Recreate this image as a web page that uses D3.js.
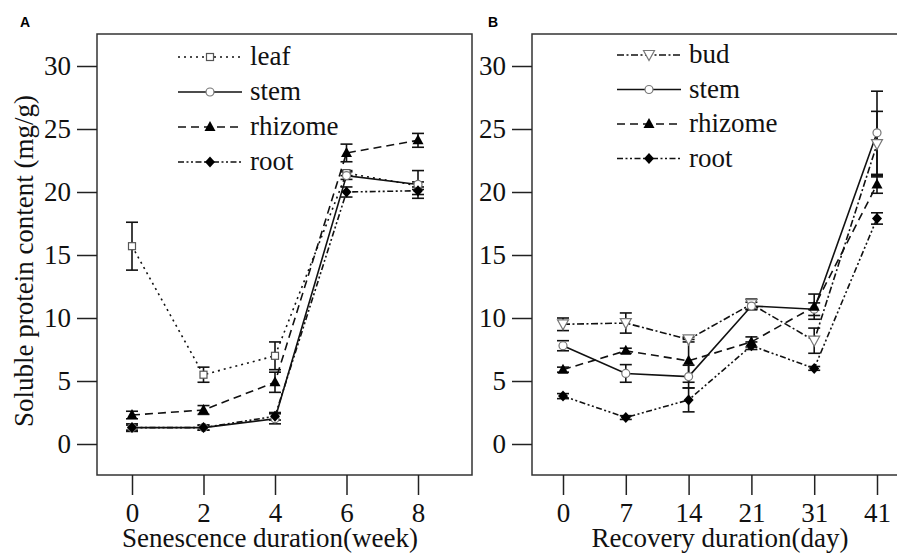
<!DOCTYPE html>
<html><head><meta charset="utf-8">
<script src="https://cdn.jsdelivr.net/npm/d3@7"></script>
<style>
body{margin:0;background:#fff;}
svg{display:block;}
</style></head>
<body>
<svg id="chart" width="897" height="553"></svg>
<script>
// ---------- data ----------
const weeks = [0, 2, 4, 6, 8];
const leafA = [15.7, 5.5, 7.0, 21.5, 20.5];
const leafAErr = [1.9, 0.6, 1.1, 0.2, 0.3];
const stemA = [1.3, 1.3, 2.0, 21.3, 20.6];
const stemAErr = [0.2, 0.2, 0.4, 0.3, 1.1];
const rhizomeA = [2.3, 2.7, 4.9, 23.1, 24.1];
const rhizomeAErr = [0.3, 0.35, 0.8, 0.7, 0.55];
const rootA = [1.3, 1.3, 2.2, 20.0, 20.1];
const rootAErr = [0.3, 0.2, 0.3, 0.4, 0.3];

const days = ["0", "7", "14", "21", "31", "41"];
const budB = [9.5, 9.6, 8.3, 11.1, 8.2, 23.8];
const budBErr = [0.5, 0.8, 0.2, 0.4, 1.0, 2.6];
const stemB = [7.8, 5.6, 5.35, 10.95, 10.7, 24.7];
const stemBErr = [0.4, 0.7, 0.9, 0.3, 0.5, 3.3];
const rhizomeB = [5.9, 7.4, 6.6, 8.1, 10.9, 20.6];
const rhizomeBErr = [0.2, 0.2, 1.7, 0.4, 1.0, 0.7];
const rootB = [3.8, 2.1, 3.5, 7.8, 6.0, 17.9];
const rootBErr = [0.2, 0.15, 0.95, 0.3, 0.15, 0.45];

const yTicks = [0, 5, 10, 15, 20, 25, 30];
const yTitle = "Soluble protein content (mg/g)";
const xTitleA = "Senescence duration(week)";
const xTitleB = "Recovery duration(day)";

// ---------- styles ----------
const SERIF = "'Liberation Serif', 'Times New Roman', serif";
const styles = {
  leaf:    {dash: "2,4",  marker: "square"},
  stem:    {dash: null,   marker: "circle"},
  rhizome: {dash: "8,5",  marker: "triangle"},
  root:    {dash: "6,2.5,2,2.5,2,2.5", marker: "diamond"},
  bud:     {dash: "7,2.5,2,2.5", marker: "tridown"}
};

const svg = d3.select("#chart");
const FS = 27;
const y = d3.scaleLinear().domain([0, 30]).range([444, 66]);

function drawMarker(g, type, cx, cy) {
  if (type === "square") {
    g.append("rect").attr("x", cx - 3.5).attr("y", cy - 3.5).attr("width", 7).attr("height", 7)
      .attr("fill", "#fff").attr("stroke", "#555").attr("stroke-width", 1.2);
  } else if (type === "circle") {
    g.append("circle").attr("cx", cx).attr("cy", cy).attr("r", 4)
      .attr("fill", "#fff").attr("stroke", "#777").attr("stroke-width", 1.2);
  } else if (type === "triangle") {
    g.append("path").attr("d", `M${cx},${cy - 6}L${cx + 5.5},${cy + 4}L${cx - 5.5},${cy + 4}Z`)
      .attr("fill", "#000");
  } else if (type === "diamond") {
    g.append("path").attr("d", `M${cx},${cy - 5.5}L${cx + 5},${cy}L${cx},${cy + 5.5}L${cx - 5},${cy}Z`)
      .attr("fill", "#000");
  } else if (type === "tridown") {
    g.append("path").attr("d", `M${cx - 5.5},${cy - 4.5}L${cx + 5.5},${cy - 4.5}L${cx},${cy + 5.5}Z`)
      .attr("fill", "#fff").attr("stroke", "#777").attr("stroke-width", 1.2);
  }
}

function styleText(sel, size) {
  sel.style("font-family", SERIF).style("font-size", size + "px").style("fill", "#111");
}

function panel(opts) {
  const g = svg.append("g");
  const {x, xTickValues, xPos, box, series, legendX, legendY, legendStep, xTitle, xTitleX, letter, letterX} = opts;
  g.append("rect").attr("x", box[0]).attr("y", box[1]).attr("width", box[2] - box[0]).attr("height", box[3] - box[1])
    .attr("fill", "none").attr("stroke", "#333").attr("stroke-width", 1.5);
  const ya = g.append("g").attr("transform", `translate(${box[0]},0)`)
    .call(d3.axisLeft(y).tickValues(yTicks).tickSize(20).tickPadding(6).tickSizeOuter(0));
  ya.select(".domain").remove();
  ya.selectAll(".tick line").attr("stroke", "#222").attr("stroke-width", 1.5);
  styleText(ya.selectAll(".tick text"), FS);
  const xAxis = d3.axisBottom(x).tickSize(20).tickPadding(8).tickSizeOuter(0);
  if (xTickValues) xAxis.tickValues(xTickValues);
  const xa = g.append("g").attr("transform", `translate(0,${box[3]})`).call(xAxis);
  xa.select(".domain").remove();
  xa.selectAll(".tick line").attr("stroke", "#222").attr("stroke-width", 1.5);
  styleText(xa.selectAll(".tick text"), FS);
  styleText(g.append("text").attr("x", xTitleX).attr("y", 547).attr("text-anchor", "middle").text(xTitle), 27);
  g.append("text").attr("x", letterX).attr("y", 27).style("font-family", "'Liberation Sans', Arial, sans-serif")
    .style("font-weight", "bold").style("font-size", "14px").style("fill", "#000").text(letter);

  const line = d3.line().x((d, i) => xPos(i)).y(d => y(d));
  series.forEach(s => {
    const st = styles[s.key];
    g.append("path").attr("d", line(s.values)).attr("fill", "none").attr("stroke", "#111")
      .attr("stroke-width", 1.6).attr("stroke-dasharray", st.dash);
  });
  series.forEach(s => {
    s.values.forEach((v, i) => {
      const cx = xPos(i), e = s.err[i];
      const eg = g.append("g").attr("stroke", "#111").attr("stroke-width", 1.6);
      eg.append("line").attr("x1", cx).attr("x2", cx).attr("y1", y(v - e)).attr("y2", y(v + e));
      eg.append("line").attr("x1", cx - 6).attr("x2", cx + 6).attr("y1", y(v - e)).attr("y2", y(v - e));
      eg.append("line").attr("x1", cx - 6).attr("x2", cx + 6).attr("y1", y(v + e)).attr("y2", y(v + e));
    });
  });
  series.forEach(s => {
    s.values.forEach((v, i) => drawMarker(g, styles[s.key].marker, xPos(i), y(v)));
  });
  series.forEach((s, k) => {
    const ly = legendY + k * legendStep;
    const st = styles[s.key];
    g.append("line").attr("x1", legendX).attr("x2", legendX + 64).attr("y1", ly).attr("y2", ly)
      .attr("stroke", "#111").attr("stroke-width", 1.3).attr("stroke-dasharray", st.dash);
    drawMarker(g, st.marker, legendX + 32, ly);
    styleText(g.append("text").attr("x", legendX + 72).attr("y", ly).attr("dy", "0.3em").text(s.name), FS);
  });
}

// Panel A
const xA = d3.scaleLinear().domain([0, 8]).range([132, 418]);
panel({
  x: xA, xTickValues: weeks,
  xPos: i => xA(weeks[i]),
  box: [97, 34, 472, 475],
  series: [
    {key: "leaf", name: "leaf", values: leafA, err: leafAErr},
    {key: "stem", name: "stem", values: stemA, err: stemAErr},
    {key: "rhizome", name: "rhizome", values: rhizomeA, err: rhizomeAErr},
    {key: "root", name: "root", values: rootA, err: rootAErr}
  ],
  legendX: 178, legendY: 57, legendStep: 35,
  xTitle: xTitleA, xTitleX: 270, letter: "A", letterX: 20
});

// Panel B
const xB = d3.scalePoint().domain(days).range([563, 877]);
panel({
  x: xB, xTickValues: null,
  xPos: i => xB(days[i]),
  box: [532, 34, 910, 475],
  series: [
    {key: "bud", name: "bud", values: budB, err: budBErr},
    {key: "stem", name: "stem", values: stemB, err: stemBErr},
    {key: "rhizome", name: "rhizome", values: rhizomeB, err: rhizomeBErr},
    {key: "root", name: "root", values: rootB, err: rootBErr}
  ],
  legendX: 617, legendY: 55, legendStep: 34.5,
  xTitle: xTitleB, xTitleX: 720, letter: "B", letterX: 488
});

// y title
styleText(svg.append("text").attr("transform", "translate(33,261) rotate(-90)").attr("text-anchor", "middle").text(yTitle), 27);
</script>
</body></html>
